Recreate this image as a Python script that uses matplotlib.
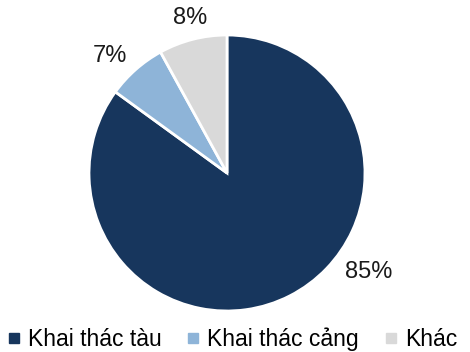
import matplotlib
matplotlib.use('Agg')
import matplotlib.pyplot as plt
from matplotlib.lines import Line2D

# share of revenue by segment
categories = ['Khai thác tàu', 'Khai thác cảng', 'Khác']
shares = [85, 7, 8]
colors = ['#17365D', '#8EB4D8', '#D9D9D9']
# label anchors (x, y) in pie units, placed just outside the rim
label_pos = [(1.03, -0.72), (-0.85, 0.85), (-0.27, 1.12)]

plt.rcParams['font.family'] = ['Liberation Sans', 'DejaVu Sans']

fig = plt.figure(figsize=(4.7, 3.52), dpi=100)
ax = fig.add_axes([89 / 470, 41 / 352, 276 / 470, 276 / 352])

ax.pie(shares, colors=colors, startangle=90, counterclock=False,
       radius=1.0, wedgeprops=dict(edgecolor='white', linewidth=2))
ax.set_xlim(-1, 1)
ax.set_ylim(-1, 1)
ax.set_aspect('equal')

for val, (x, y) in zip(shares, label_pos):
    ax.text(x, y, f'{val}%', ha='center', va='center', fontsize=17,
            color='#1a1a1a', clip_on=False)

handles = [Line2D([], [], marker='s', linestyle='none', markersize=7,
                  markerfacecolor=c, markeredgecolor=c) for c in colors]
fig.legend(handles, categories, loc='center left', bbox_to_anchor=(0.01, 0.036),
           ncol=3, frameon=False, fontsize=16.5, handletextpad=0.2,
           columnspacing=1.0, handlelength=0.8, borderpad=0.0,
           borderaxespad=0.0)

fig.savefig('out.png', dpi=100)
